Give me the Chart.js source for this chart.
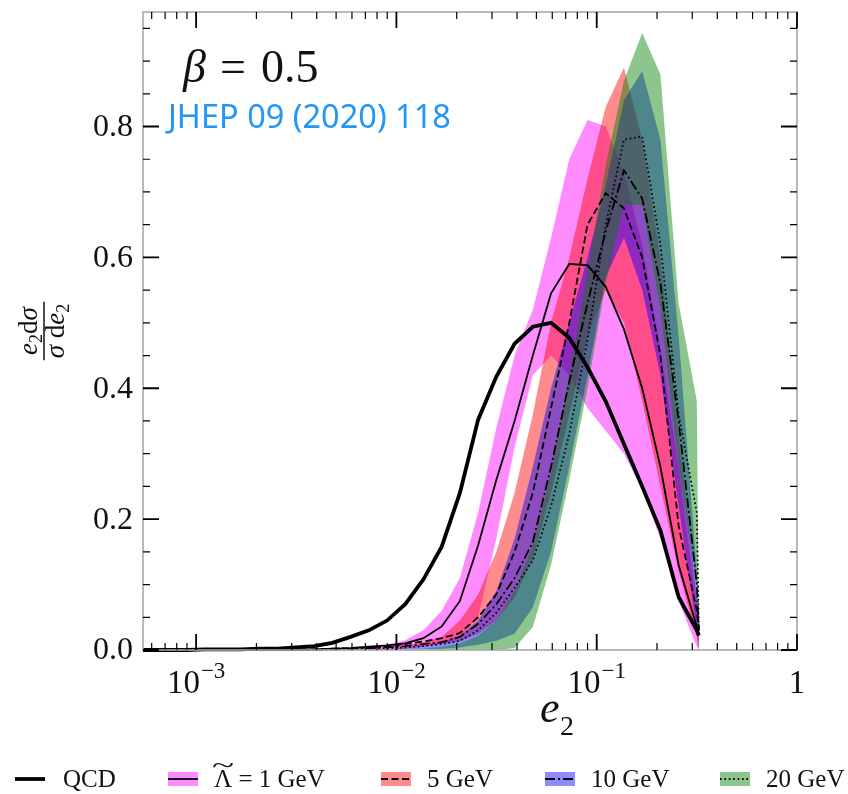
<!DOCTYPE html>
<html><head><meta charset="utf-8">
<script src="https://cdn.jsdelivr.net/npm/chart.js@4.4.1/dist/chart.umd.min.js"></script>
<style>html,body{margin:0;padding:0;background:#fff}canvas{display:block}</style>
</head><body>
<canvas id="c" width="848" height="794"></canvas>
<script>
// e2 sample points
const e2 = [0.000478,0.000589,0.000726,0.000895,0.001104,0.001361,0.001679,0.00207,0.002553,0.003148,0.003882,0.004786,0.005902,0.007278,0.008974,0.01107,0.01365,0.01683,0.02075,0.02559,0.03155,0.0389,0.04797,0.05916,0.07295,0.08995,0.1109,0.1368,0.1687,0.208,0.2564,0.3162,0.3236];
// central curves
const qcd    = [0,0,0,0,0.001,0.001,0.001,0.002,0.002,0.004,0.006,0.011,0.02,0.03,0.045,0.070,0.108,0.158,0.240,0.352,0.418,0.468,0.494,0.500,0.477,0.432,0.380,0.315,0.250,0.183,0.081,0.030,0.022];
const lam1   = [0,0,0,0,0,0,0,0,0,0,0.001,0.002,0.003,0.005,0.007,0.010,0.018,0.036,0.075,0.16,0.26,0.35,0.45,0.545,0.59,0.588,0.555,0.49,0.40,0.28,0.13,0.035,0.025];
const lam5   = [0,0,0,0,0,0,0,0,0,0.001,0.001,0.002,0.003,0.004,0.006,0.009,0.013,0.018,0.026,0.05,0.085,0.15,0.24,0.37,0.50,0.65,0.698,0.675,0.60,0.45,0.19,0.06,0.03];
const lam10  = [0,0,0,0,0,0,0,0,0,0,0,0.001,0.002,0.003,0.004,0.006,0.009,0.012,0.02,0.04,0.07,0.11,0.165,0.28,0.41,0.53,0.64,0.733,0.69,0.56,0.35,0.10,0.03];
const lam20  = [0,0,0,0,0,0,0,0,0,0,0,0.001,0.001,0.002,0.003,0.004,0.006,0.009,0.014,0.03,0.057,0.095,0.137,0.22,0.33,0.475,0.65,0.78,0.785,0.62,0.36,0.21,0.03];
// uncertainty bands (lower / upper)
const lam1Lo = [0,0,0,0,0,0,0,0,0,0,0,0,0,0,0,0.002,0.005,0.010,0.02,0.05,0.17,0.31,0.42,0.45,0.42,0.37,0.335,0.30,0.245,0.17,0.075,0.005,0];
const lam1Hi = [0,0,0,0,0,0,0,0,0,0,0,0.001,0.002,0.004,0.008,0.015,0.03,0.06,0.11,0.21,0.34,0.45,0.52,0.63,0.75,0.81,0.80,0.73,0.62,0.46,0.28,0.06,0.02];
const lam5Lo = [0,0,0,0,0,0,0,0,0,0,0,0,0.001,0.002,0.003,0.004,0.006,0.009,0.013,0.025,0.045,0.08,0.14,0.24,0.36,0.48,0.55,0.50,0.38,0.25,0.12,0.02,0];
const lam5Hi = [0,0,0,0,0,0,0,0,0,0,0,0.001,0.001,0.002,0.004,0.007,0.012,0.02,0.045,0.085,0.15,0.24,0.36,0.50,0.60,0.72,0.83,0.89,0.78,0.60,0.33,0.08,0.02];
const lam10Lo = [0,0,0,0,0,0,0,0,0,0,0,0,0,0,0,0.001,0.001,0.002,0.004,0.008,0.014,0.025,0.065,0.15,0.28,0.42,0.57,0.63,0.55,0.42,0.22,0.03,0];
const lam10Hi = [0,0,0,0,0,0,0,0,0,0,0,0,0.001,0.001,0.002,0.004,0.007,0.012,0.022,0.045,0.09,0.17,0.28,0.40,0.50,0.60,0.71,0.84,0.885,0.78,0.48,0.12,0.02];
const lam20Lo = [0,0,0,0,0,0,0,0,0,0,0,0,0,0,0,0,0,0,0,0,0,0.003,0.035,0.13,0.26,0.40,0.56,0.68,0.68,0.52,0.28,0.10,0];
const lam20Hi = [0,0,0,0,0,0,0,0,0,0,0,0,0,0,0.001,0.001,0.002,0.005,0.01,0.022,0.045,0.09,0.16,0.27,0.42,0.58,0.74,0.87,0.943,0.88,0.53,0.38,0.02];
// ticks and labels
const yTicks = [0, 0.2, 0.4, 0.6, 0.8];
const yTickLabels = ['0.0', '0.2', '0.4', '0.6', '0.8'];
const xMajor = [0.001, 0.01, 0.1, 1];
const xTickBase = ['10', '10', '10', '1'];
const xTickExp = ['\u22123', '\u22122', '\u22121', ''];
const legendLabels = ['QCD', ' = 1 GeV', '5 GeV', '10 GeV', '20 GeV'];

const pts = arr => arr.map((v, i) => ({x: e2[i], y: v}));
const bandColors = ['rgba(255,0,255,0.45)', 'rgba(255,0,0,0.45)', 'rgba(0,0,255,0.45)', 'rgba(0,128,0,0.45)'];
const dashes = [[], [], [7, 3.5], [10, 3, 2, 3], [1.6, 2.8]];
const widths = [3.8, 1.8, 1.8, 1.8, 1.8];

function lineDs(arr, i) {
  return {data: pts(arr), borderColor: '#000', borderWidth: widths[i], borderDash: dashes[i],
    pointRadius: 0, fill: false, tension: 0, clip: {left: 0, top: 5, right: 5, bottom: 5}};
}
function hiDs(arr, c) {
  return {data: pts(arr), borderColor: 'rgba(0,0,0,0)', borderWidth: 0, backgroundColor: c,
    pointRadius: 0, fill: '+1', tension: 0};
}
function loDs(arr) {
  return {data: pts(arr), borderColor: 'rgba(0,0,0,0)', borderWidth: 0, pointRadius: 0, fill: false, tension: 0};
}

const decor = {
  id: 'decor',
  afterDraw(chart) {
    const ctx = chart.ctx, a = chart.chartArea, xs = chart.scales.x, ys = chart.scales.y;
    ctx.save();
    // frame
    ctx.strokeStyle = '#a8a8a8'; ctx.lineWidth = 1.6;
    ctx.strokeRect(a.left, a.top, a.right - a.left, a.bottom - a.top);
    ctx.strokeStyle = '#000';
    // x ticks
    const xt = (v, len, w) => {
      const p = xs.getPixelForValue(v);
      ctx.lineWidth = w;
      ctx.beginPath();
      ctx.moveTo(p, a.bottom); ctx.lineTo(p, a.bottom - len);
      ctx.moveTo(p, a.top); ctx.lineTo(p, a.top + len);
      ctx.stroke();
    };
    for (let d = -4; d <= -1; d++) {
      for (let m = 2; m <= 9; m++) {
        const v = m * Math.pow(10, d);
        if (v > xs.min && v < xs.max) xt(v, 7, 1.2);
      }
    }
    xMajor.forEach(v => xt(v, 16, 1.8));
    // y ticks
    const yt = (v, len, w) => {
      const p = ys.getPixelForValue(v);
      ctx.lineWidth = w;
      ctx.beginPath();
      ctx.moveTo(a.left, p); ctx.lineTo(a.left + len, p);
      ctx.moveTo(a.right, p); ctx.lineTo(a.right - len, p);
      ctx.stroke();
    };
    for (let k = 1; k < 20; k++) {
      const v = k * 0.05;
      if (k % 4 !== 0 && v < ys.max) yt(v, 7, 1.2);
    }
    yTicks.forEach(v => yt(v, 16, 1.8));
    // y tick labels
    ctx.fillStyle = '#111';
    ctx.font = '32px "Liberation Serif"';
    ctx.textAlign = 'right'; ctx.textBaseline = 'middle';
    yTicks.forEach((v, i) => ctx.fillText(yTickLabels[i], a.left - 10, ys.getPixelForValue(v) + 1));
    // x tick labels
    ctx.textAlign = 'left'; ctx.textBaseline = 'alphabetic';
    xMajor.forEach((v, i) => {
      const p = xs.getPixelForValue(v);
      ctx.font = '33px "Liberation Serif"';
      const wb = ctx.measureText(xTickBase[i]).width;
      ctx.font = '23px "Liberation Serif"';
      const we = xTickExp[i] ? ctx.measureText(xTickExp[i]).width + 1 : 0;
      const x0 = p - (wb + we) / 2;
      ctx.font = '33px "Liberation Serif"';
      ctx.fillText(xTickBase[i], x0, 693);
      if (we) { ctx.font = '23px "Liberation Serif"'; ctx.fillText(xTickExp[i], x0 + wb + 1, 678); }
    });
    // x axis title
    ctx.font = 'italic 44px "Liberation Serif"';
    ctx.fillText('e', 540, 722);
    ctx.font = '28px "Liberation Serif"';
    ctx.fillText('2', 560, 735);
    // y axis title (fraction, rotated)
    ctx.save();
    ctx.translate(44, 331);
    ctx.rotate(-Math.PI / 2);
    const part = (segs, baseY, center) => {
      let w = 0;
      segs.forEach(s => { ctx.font = s[1]; w += ctx.measureText(s[0]).width; });
      let x0 = center - w / 2;
      segs.forEach(s => { ctx.font = s[1]; ctx.fillText(s[0], x0, baseY + (s[2] || 0)); x0 += ctx.measureText(s[0]).width; });
      return w;
    };
    const it = 'italic 27px "Liberation Serif"', rm = '27px "Liberation Serif"', sub = '18px "Liberation Serif"';
    const w1 = part([['e', it], ['2', sub, 5], ['d', rm], ['σ', it]], -7, 0);
    const w2 = part([['σ', it], [' d', rm], ['e', it], ['2', sub, 5]], 20, 0);
    const bw = Math.max(w1, w2) + 4;
    ctx.lineWidth = 1.4;
    ctx.beginPath(); ctx.moveTo(-bw / 2, 0); ctx.lineTo(bw / 2, 0); ctx.stroke();
    ctx.restore();
    // annotations
    ctx.fillStyle = '#111';
    ctx.font = 'italic 46px "Liberation Serif"';
    ctx.fillText('β', 183, 82);
    ctx.font = '46px "Liberation Serif"';
    ctx.fillText('=', 220, 82);
    ctx.fillText('0.5', 261, 82);
    ctx.fillStyle = '#2196F3';
    ctx.font = '32.5px "Noto Sans"';
    ctx.fillText('JHEP 09 (2020) 118', 168, 128);
    // legend
    const ly = 779;
    ctx.fillStyle = '#111';
    ctx.strokeStyle = '#000';
    ctx.font = '25px "Liberation Serif"';
    ctx.textBaseline = 'middle';
    ctx.lineWidth = widths[0]; ctx.setLineDash([]);
    ctx.beginPath(); ctx.moveTo(15, ly); ctx.lineTo(45, ly); ctx.stroke();
    ctx.fillText(legendLabels[0], 63, ly + 1);
    const px = [168, 381, 545, 720];
    for (let i = 0; i < 4; i++) {
      ctx.fillStyle = bandColors[i];
      ctx.fillRect(px[i], ly - 7, 30, 14);
      ctx.lineWidth = widths[i + 1]; ctx.setLineDash(dashes[i + 1]);
      ctx.beginPath(); ctx.moveTo(px[i], ly); ctx.lineTo(px[i] + 30, ly); ctx.stroke();
      ctx.setLineDash([]);
      ctx.fillStyle = '#111';
      let tx = px[i] + 46;
      if (i === 0) {
        ctx.font = '25px "Liberation Serif"';
        const wl = ctx.measureText('Λ').width;
        ctx.fillText('Λ', tx, ly + 1);
        // wide tilde accent
        ctx.save();
        ctx.translate(tx + wl / 2, ly - 12);
        ctx.scale(1.7, 1);
        ctx.textAlign = 'center';
        ctx.font = '24px "Liberation Serif"';
        ctx.fillText('~', 0, 0);
        ctx.restore();
        tx += wl;
      }
      ctx.font = '25px "Liberation Serif"';
      ctx.fillText(legendLabels[i + 1], tx, ly + 1);
    }
    ctx.restore();
  }
};

new Chart(document.getElementById('c'), {
  type: 'line',
  data: {
    datasets: [
      lineDs(qcd, 0), lineDs(lam1, 1), lineDs(lam5, 2), lineDs(lam10, 3), lineDs(lam20, 4),
      hiDs(lam20Hi, bandColors[3]), loDs(lam20Lo),
      hiDs(lam10Hi, bandColors[2]), loDs(lam10Lo),
      hiDs(lam5Hi, bandColors[1]), loDs(lam5Lo),
      hiDs(lam1Hi, bandColors[0]), loDs(lam1Lo)
    ]
  },
  options: {
    responsive: false, animation: false, devicePixelRatio: 1,
    layout: {padding: {left: 143, right: 51, top: 12, bottom: 144}},
    plugins: {legend: {display: false}, tooltip: {enabled: false}},
    scales: {
      x: {type: 'logarithmic', min: 0.000543, max: 1, display: false},
      y: {type: 'linear', min: 0, max: 0.975, display: false}
    }
  },
  plugins: [decor]
});
</script>
</body></html>
